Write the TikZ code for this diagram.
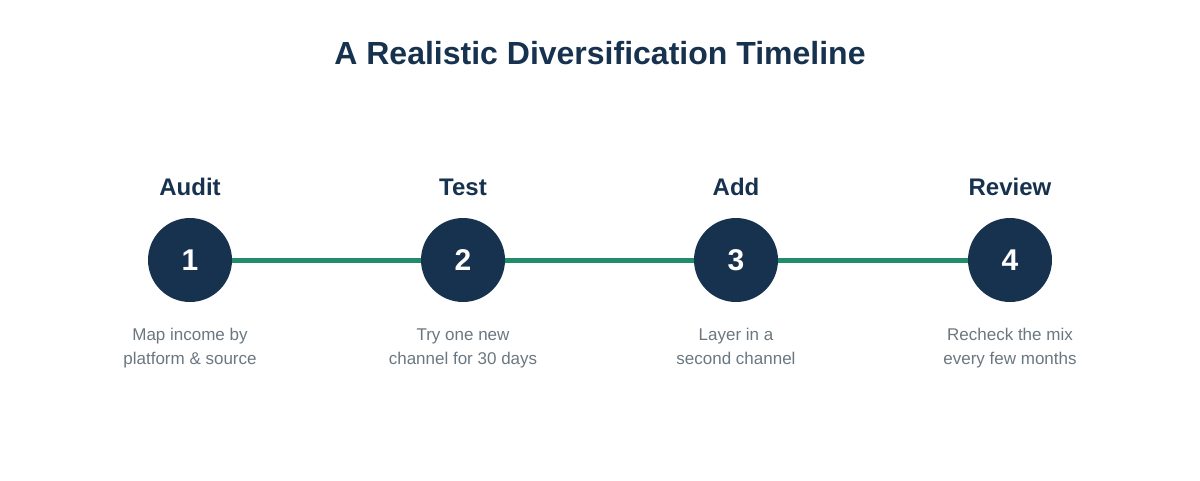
\documentclass[tikz,border=0pt]{standalone}
\usepackage{fontspec}
\setmainfont{Liberation Sans}
\definecolor{navy}{HTML}{17324F}
\definecolor{teal}{HTML}{218B6C}
\definecolor{desc}{HTML}{6B7780}
\begin{document}
\begin{tikzpicture}[x=1pt,y=-1pt,
  stepcircle/.style={circle,fill=navy,minimum size=84pt,inner sep=0pt,text=white,font=\fontsize{30}{30}\selectfont\bfseries},
  steplabel/.style={text=navy,font=\fontsize{24}{24}\selectfont\bfseries,anchor=base},
  stepdesc/.style={text=desc,font=\fontsize{17}{24}\selectfont,align=center,anchor=north},
  link/.style={draw=teal,line width=5pt}]
\useasboundingbox (0,0) rectangle (1200,480);
\node[text=navy,font=\fontsize{32}{32}\selectfont\bfseries,anchor=base] (title) at (600,64) {A Realistic Diversification Timeline};
\foreach \i/\x/\lab/\d in {1/190/Audit/{Map income by\\platform \& source},
  2/463/Test/{Try one new\\channel for 30 days},
  3/736/Add/{Layer in a\\second channel},
  4/1010/Review/{Recheck the mix\\every few months}}{
  \node[steplabel] (l\i) at (\x,195) {\lab};
  \node[stepdesc] (d\i) at (\x,325) {\d};
}
\node[stepcircle] (c1) at (190,260) {};
\node[stepcircle] (c2) at (463,260) {};
\node[stepcircle] (c3) at (736,260) {};
\node[stepcircle] (c4) at (1010,260) {};
\draw[link] (c1) -- (c2);
\draw[link] (c2) -- (c3);
\draw[link] (c3) -- (c4);
\foreach \i in {1,...,4}{\node[stepcircle,fill=none] (n\i) at (c\i) {\i};}
\end{tikzpicture}
\end{document}
